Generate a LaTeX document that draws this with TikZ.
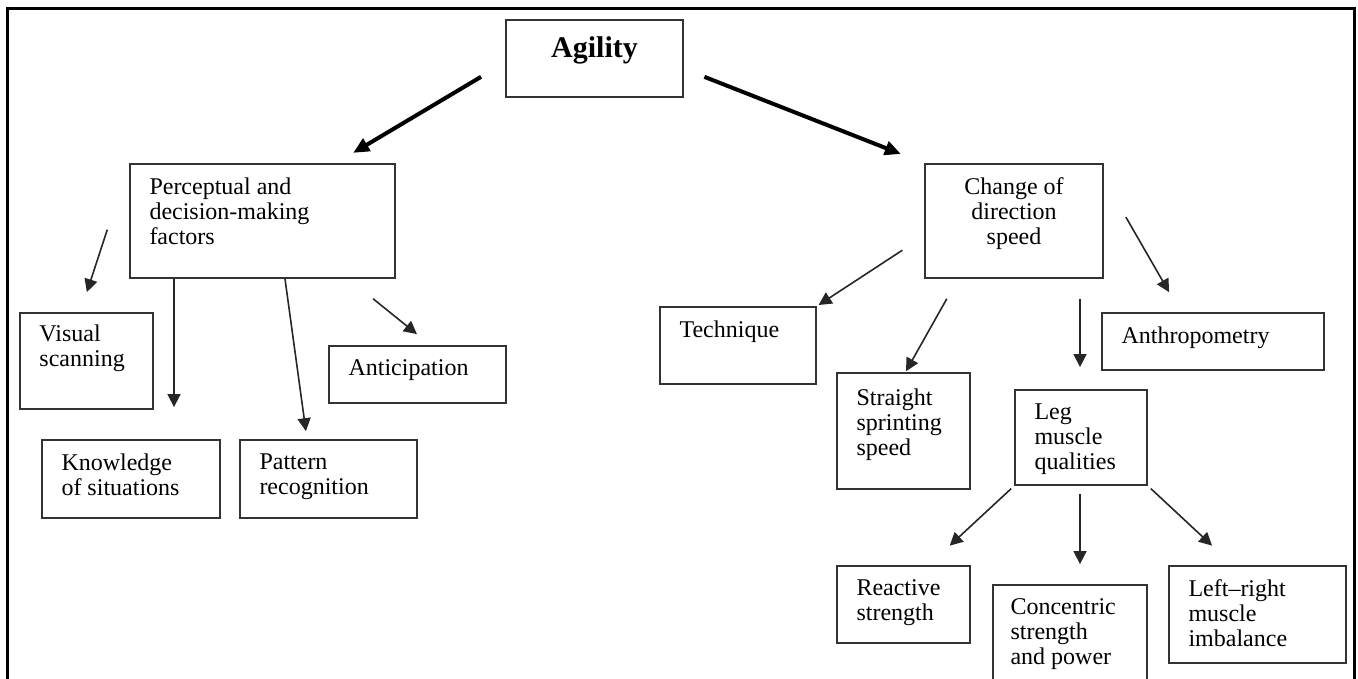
\documentclass[tikz,border=0pt]{standalone}
\usepackage{fontspec}
\setmainfont{Liberation Serif}
\usetikzlibrary{arrows.meta, positioning, fit}

\begin{document}
\begin{tikzpicture}[
    x=0.5pt, y=-0.5pt,
    box/.style={draw=black!80, line width=0.9pt, inner sep=0pt},
    txt/.style={inner sep=0pt, align=left, font=\fontsize{12}{12.5}\selectfont},
    link/.style={-{Triangle[length=6.5pt, width=6.5pt]}, line width=0.8pt, black!85},
    mainlink/.style={-{Triangle[length=8pt, width=7pt]}, line width=2pt},
]

\useasboundingbox (0,0) rectangle (1358,679);

% ── Frame ──
\draw[line width=1.5pt] (7,690) -- (7,9) -- (1354,9) -- (1354,690);

% ── Boxes ──
\node[box, fit={(506,20) (683,97)}]    (agility)   {};
\node[box, fit={(130,164) (395,278)}]  (percep)    {};
\node[box, fit={(925,164) (1103,278)}] (change)    {};
\node[box, fit={(20,313) (153,409)}]   (visual)    {};
\node[box, fit={(42,440) (220,518)}]   (knowl)     {};
\node[box, fit={(240,440) (417,518)}]  (pattern)   {};
\node[box, fit={(329,346) (506,403)}]  (antic)     {};
\node[box, fit={(660,307) (816,384)}]  (techn)     {};
\node[box, fit={(1102,313) (1324,370)}] (anthro)   {};
\node[box, fit={(837,373) (970,489)}]  (straight)  {};
\node[box, fit={(1015,390) (1147,485)}] (leg)      {};
\node[box, fit={(837,566) (970,643)}]  (reactive)  {};
\node[box, fit={(993,585) (1147,690)}] (concen)    {};
\node[box, fit={(1169,566) (1346,663)}] (leftright) {};

% ── Texts ──
\node[txt, font=\fontsize{15}{17}\selectfont\bfseries, below=8.5pt of agility.north] {Agility};
\node[txt, below right=7pt and 10pt of percep.north west] {Perceptual and\\decision-making\\factors};
\node[txt, align=center, below=7pt of change.north] {Change of\\direction\\speed};
\node[txt, below right=6pt and 10pt of visual.north west] {Visual\\scanning};
\node[txt, below right=7pt and 10pt of knowl.north west] {Knowledge\\of situations};
\node[txt, below right=7pt and 10pt of pattern.north west] {Pattern\\recognition};
\node[txt, below right=7pt and 10pt of antic.north west] {Anticipation};
\node[txt, below right=7pt and 10pt of techn.north west] {Technique};
\node[txt, below right=7pt and 10pt of anthro.north west] {Anthropometry};
\node[txt, below right=8pt and 10pt of straight.north west] {Straight\\sprinting\\speed};
\node[txt, below right=7pt and 10pt of leg.north west] {Leg\\muscle\\qualities};
\node[txt, below right=7pt and 10pt of reactive.north west] {Reactive\\strength};
\node[txt, below right=7pt and 9pt of concen.north west] {Concentric\\strength\\and power};
\node[txt, below right=7pt and 10pt of leftright.north west] {Left--right\\muscle\\imbalance};

% ── Main arrows ──
\draw[mainlink, shorten <=14pt, shorten >=10pt]
    ([yshift=-2pt]agility.west) -- ([xshift=36.75pt]percep.north);
\draw[mainlink, shorten <=11pt, shorten >=12.5pt]
    ([yshift=-5.15pt]agility.east) -- (change.north west);

% ── Perceptual factors ──
\draw[link, shorten <=35pt, shorten >=10.5pt]
    (percep.north west) -- ([xshift=-3.1pt]visual.north);
\draw[link, shorten >=16pt]
    ([xshift=-44.25pt]percep.south) -- ([xshift=21.5pt]knowl.north);
\draw[link, shorten >=4pt]
    ([xshift=11.25pt]percep.south) -- ([xshift=-10.75pt]pattern.north);
\draw[link, shorten <=15.8pt, shorten >=8.7pt]
    ([xshift=43pt]percep.south) -- ([xshift=6.5pt]antic.north);

% ── Change of direction factors ──
\draw[link, shorten <=13pt, shorten >=1pt]
    ([yshift=-7.5pt]change.west) -- (techn.north east);
\draw[link, shorten <=11.4pt, shorten >=0.5pt]
    ([xshift=-28pt]change.south) -- ([xshift=1pt]straight.north);
\draw[link, shorten <=10pt, shorten >=11pt]
    ([xshift=33pt]change.south) -- ([xshift=-0.5pt]leg.north);
\draw[link, shorten <=22pt, shorten >=11.5pt]
    ([yshift=21pt]change.east) -- ([xshift=-16.2pt]anthro.north);

% ── Leg muscle qualities ──
\draw[link, shorten <=2pt, shorten >=14.3pt]
    (leg.south west) -- ([xshift=12.6pt]reactive.north);
\draw[link, shorten <=4pt, shorten >=10pt]
    ([xshift=-0.5pt]leg.south) -- ([xshift=5pt]concen.north);
\draw[link, shorten <=2pt, shorten >=14.3pt]
    (leg.south east) -- ([xshift=-12.25pt]leftright.north);

\end{tikzpicture}
\end{document}
